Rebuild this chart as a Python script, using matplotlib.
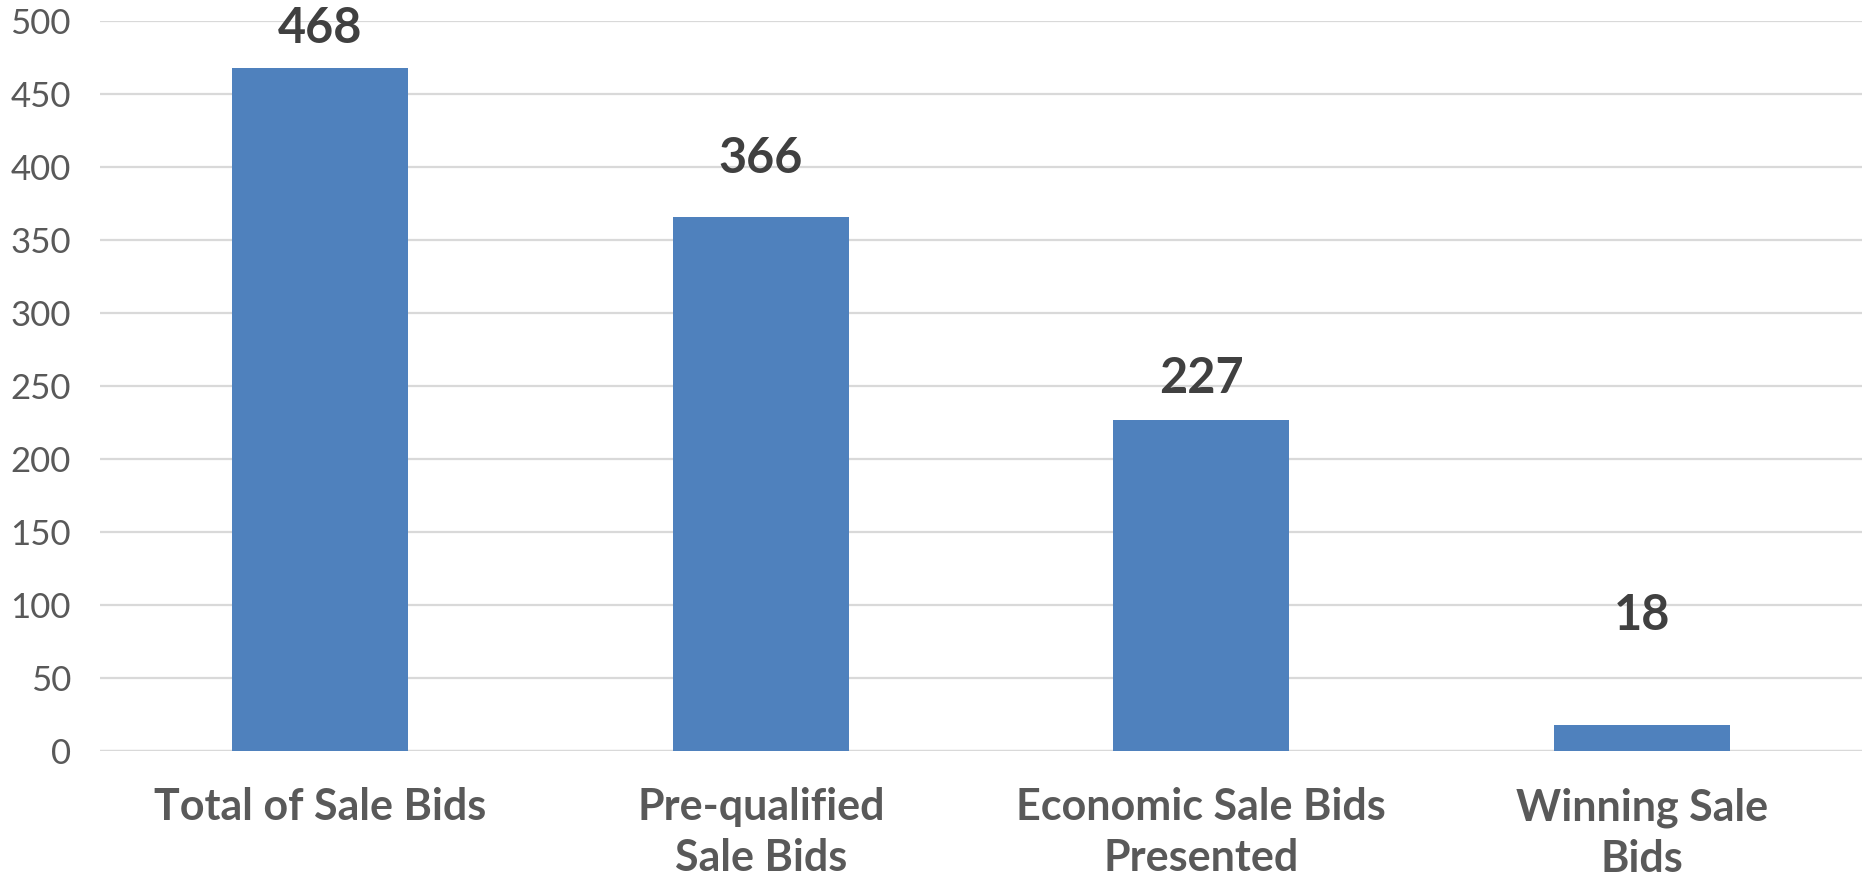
import matplotlib
matplotlib.use("Agg")
import matplotlib.pyplot as plt

categories = ["Total of Sale Bids", "Pre-qualified\nSale Bids", "Economic Sale Bids\nPresented", "Winning Sale\nBids"]
values = [468, 366, 227, 18]
yticks = [0, 50, 100, 150, 200, 250, 300, 350, 400, 450, 500]

# vertical placement of value labels (label center, in data units)
label_centers = [495, 406, 255, 93]

plt.rcParams['font.family'] = ['Lato', 'DejaVu Sans']

fig = plt.figure(figsize=(18.67, 8.82), dpi=100)
ax = fig.add_axes([0.0536, 0.1485, 0.9437, 0.8275])

x = list(range(len(categories)))
ax.bar(x, values, width=0.4, color="#4F81BD", zorder=2)
ax.set_xlim(-0.5, len(categories) - 0.5)
ax.set_ylim(0, 500)
ax.set_yticks(yticks)
ax.set_yticklabels([str(t) for t in yticks], fontsize=25, color="#595959")
ax.yaxis.grid(True, color="#D9D9D9", linewidth=1.6, zorder=0)
ax.set_axisbelow(True)
ax.tick_params(axis='y', length=0, pad=21)
ax.tick_params(axis='x', length=0, pad=26)
for s in ax.spines.values():
    s.set_visible(False)
ax.axhline(0, color="#D9D9D9", linewidth=1.6, zorder=1)

ax.set_xticks(x)
ax.set_xticklabels(categories, fontsize=31, fontweight='bold', color="#595959",
                   linespacing=1.33, va='top')

for xi, v, lc in zip(x, values, label_centers):
    ax.text(xi, lc, str(v), ha='center', va='center', fontsize=35,
            fontweight='bold', color="#404040", zorder=3)

fig.savefig("out.png", dpi=100)
